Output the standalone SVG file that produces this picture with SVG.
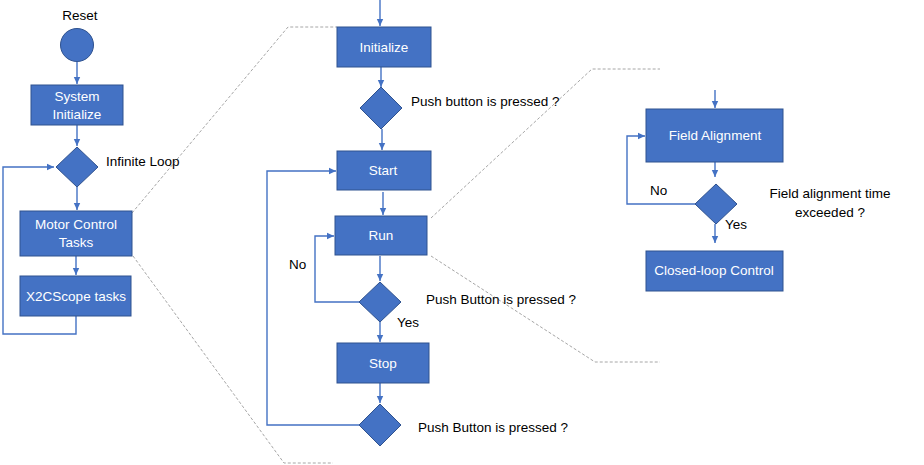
<svg xmlns="http://www.w3.org/2000/svg" width="924" height="465" viewBox="0 0 924 465">
<style>
.box{fill:#4472C4;stroke:#2F528F;stroke-width:1}
.bt{fill:#fff;font-family:"Liberation Sans",Arial,sans-serif;font-size:13.5px;text-anchor:middle}
.lb{fill:#000;font-family:"Liberation Sans",Arial,sans-serif;font-size:13.5px}
.cn{fill:none;stroke:#4472C4;stroke-width:1.4}
.zm{fill:none;stroke:#A6A6A6;stroke-width:1;stroke-dasharray:3,2}
</style>
<defs>
<marker id="ah" markerUnits="userSpaceOnUse" markerWidth="8" markerHeight="8" refX="7" refY="4" orient="auto">
<path d="M0,0.8 L7,4 L0,7.2 Z" fill="#4472C4"/>
</marker>
</defs>
<rect width="924" height="465" fill="#fff"/>
<g id="zoom-lines">
<polyline class="zm" points="132,213 288,27 337,27"/>
<polyline class="zm" points="133,256 284,463 333,463"/>
<polyline class="zm" points="431,218 592,69 660,69"/>
<polyline class="zm" points="431,256 595,362 660,362"/>
</g>
<g id="connectors">
<line class="cn" x1="77" y1="62" x2="77" y2="84" marker-end="url(#ah)"/>
<line class="cn" x1="77" y1="125" x2="77" y2="146" marker-end="url(#ah)"/>
<line class="cn" x1="77" y1="187" x2="77" y2="210" marker-end="url(#ah)"/>
<line class="cn" x1="76" y1="256" x2="76" y2="275" marker-end="url(#ah)"/>
<polyline class="cn" points="76,316 76,334 3,334 3,167 54,167" marker-end="url(#ah)"/>
<line class="cn" x1="380" y1="0" x2="380" y2="26" marker-end="url(#ah)"/>
<line class="cn" x1="381" y1="67" x2="381" y2="87" marker-end="url(#ah)"/>
<line class="cn" x1="382" y1="129" x2="382" y2="150" marker-end="url(#ah)"/>
<line class="cn" x1="383" y1="192" x2="383" y2="215" marker-end="url(#ah)"/>
<line class="cn" x1="380" y1="256" x2="380" y2="281" marker-end="url(#ah)"/>
<polyline class="cn" points="359,302 315,302 315,236 334,236" marker-end="url(#ah)"/>
<line class="cn" x1="380" y1="322" x2="380" y2="342" marker-end="url(#ah)"/>
<line class="cn" x1="380" y1="383" x2="380" y2="403" marker-end="url(#ah)"/>
<polyline class="cn" points="359,425 267,425 267,171 336,171" marker-end="url(#ah)"/>
<line class="cn" x1="715" y1="90" x2="715" y2="108" marker-end="url(#ah)"/>
<line class="cn" x1="715" y1="162" x2="715" y2="177" marker-end="url(#ah)"/>
<polyline class="cn" points="695,204 627,204 627,136 645,136" marker-end="url(#ah)"/>
<line class="cn" x1="715" y1="224" x2="715" y2="243" marker-end="url(#ah)"/>
</g>
<g id="reset">
<text class="lb" x="80" y="20" text-anchor="middle">Reset</text>
<circle cx="77" cy="45" r="16.5" fill="#4472C4" stroke="#2F528F"/>
</g>
<g id="system-initialize">
<rect class="box" x="31" y="85" width="92" height="40"/>
<text class="bt" x="77" y="101">System</text>
<text class="bt" x="77" y="119">Initialize</text>
</g>
<g id="infinite-loop">
<polygon class="box" points="77,147 98,167 77,187 56,167"/>
<text class="lb" x="106" y="166">Infinite Loop</text>
</g>
<g id="motor-control-tasks">
<rect class="box" x="20" y="211" width="112" height="45"/>
<text class="bt" x="76" y="229">Motor Control</text>
<text class="bt" x="76" y="247">Tasks</text>
</g>
<g id="x2cscope-tasks">
<rect class="box" x="20" y="276" width="111" height="40"/>
<text class="bt" x="76" y="301">X2CScope tasks</text>
</g>
<g id="initialize">
<rect class="box" x="337" y="27" width="94" height="40"/>
<text class="bt" x="384" y="52">Initialize</text>
</g>
<g id="pb-1">
<polygon class="box" points="381,87 402,108 381,129 360,108"/>
<text class="lb" x="411" y="106">Push button is pressed ?</text>
</g>
<g id="start">
<rect class="box" x="337" y="151" width="94" height="39"/>
<text class="bt" x="383" y="175">Start</text>
</g>
<g id="run">
<rect class="box" x="335" y="216" width="92" height="39"/>
<text class="bt" x="381" y="240">Run</text>
</g>
<g id="pb-2">
<polygon class="box" points="380,282 401,302 380,322 359,302"/>
<text class="lb" x="426" y="304">Push Button is pressed ?</text>
<text class="lb" x="289" y="269">No</text>
<text class="lb" x="397" y="327">Yes</text>
</g>
<g id="stop">
<rect class="box" x="337" y="343" width="92" height="40"/>
<text class="bt" x="383" y="368">Stop</text>
</g>
<g id="pb-3">
<polygon class="box" points="380,404 401,425 380,446 359,425"/>
<text class="lb" x="418" y="432">Push Button is pressed ?</text>
</g>
<g id="field-alignment">
<rect class="box" x="646" y="109" width="137" height="53"/>
<text class="bt" x="715" y="140">Field Alignment</text>
</g>
<g id="fa-decision">
<polygon class="box" points="716,184 737,204 716,224 695,204"/>
<text class="lb" x="650" y="195">No</text>
<text class="lb" x="725" y="229">Yes</text>
<text class="lb" x="830" y="198" text-anchor="middle">Field alignment time</text>
<text class="lb" x="830" y="217" text-anchor="middle">exceeded ?</text>
</g>
<g id="closed-loop-control">
<rect class="box" x="646" y="251" width="137" height="40"/>
<text class="bt" x="714" y="275">Closed-loop Control</text>
</g>
</svg>
